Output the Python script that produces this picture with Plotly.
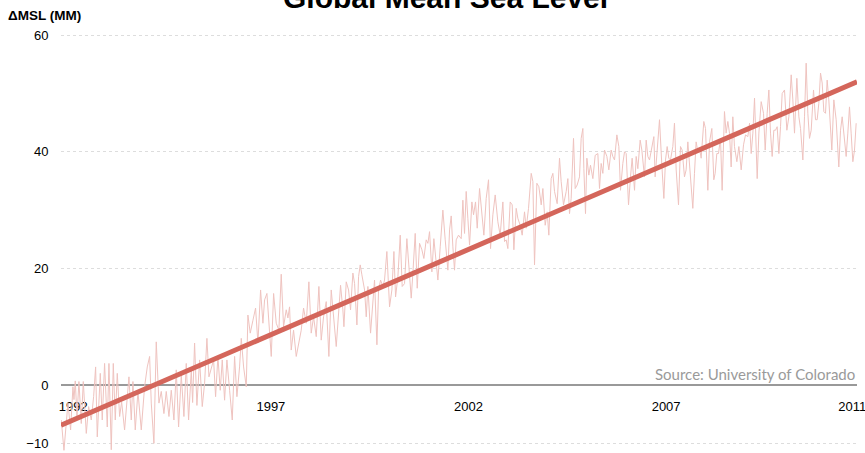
import plotly.graph_objects as go

# ---- data ----
years_a = [1991.697, 1991.765, 1991.866, 1991.933, 1991.992, 1992.018, 1992.051, 1992.094, 1992.144, 1992.203,
           1992.254, 1992.330, 1992.389, 1992.456, 1992.515, 1992.566, 1992.608, 1992.684, 1992.734, 1992.793,
           1992.861, 1992.903, 1992.962, 1993.013, 1993.063, 1993.114, 1993.173, 1993.224, 1993.299, 1993.358,
           1993.409, 1993.468, 1993.510, 1993.569, 1993.637, 1993.721, 1993.805, 1993.873, 1993.932, 1993.974,
           1994.041, 1994.100, 1994.168, 1994.227, 1994.294, 1994.353, 1994.421, 1994.480, 1994.547, 1994.606,
           1994.665, 1994.733, 1994.800, 1994.859, 1994.918, 1994.986, 1995.020]
msl_a = [-6.0, -11.2, -3.1, -7.7, -0.3, -2.5, 0.7, -5.4, 0.6, -6.6,
         0.6, -8.3, -3.7, -6.0, -2.0, 3.1, -8.9, 2.0, -6.0, 3.7,
         -7.2, 3.7, -11.1, 3.7, -6.0, 2.0, -5.4, -2.9, -7.7, -3.0,
         1.4, -6.0, 0.6, -7.7, -1.1, -7.7, -0.3, 3.1, 4.9, -3.1,
         -10.0, 7.4, -3.1, -1.1, -4.9, -1.1, -5.4, -0.9, -6.0, 2.6,
         -7.2, 1.7, -5.4, 3.7, -6.0, 2.6, -3.0]

years_b = [1995.070, 1995.129, 1995.197, 1995.264, 1995.323, 1995.382, 1995.433, 1995.492, 1995.551, 1995.601,
           1995.660, 1995.719, 1995.770, 1995.829, 1995.888, 1995.956, 1996.023, 1996.082, 1996.141, 1996.208,
           1996.251, 1996.310, 1996.377, 1996.419, 1996.478, 1996.546, 1996.613, 1996.672, 1996.740, 1996.799,
           1996.841, 1996.900, 1996.967, 1997.010, 1997.069, 1997.136, 1997.203, 1997.262, 1997.321, 1997.389,
           1997.431, 1997.473, 1997.515, 1997.574, 1997.642, 1997.709, 1997.768, 1997.827, 1997.895, 1997.962,
           1998.021, 1998.080, 1998.148, 1998.215, 1998.274, 1998.333, 1998.401, 1998.468]
msl_b = [7.2, -3.5, 4.3, -3.7, 0.3, 8.0, 1.4, 3.1, 4.3, -2.0,
         4.9, -0.9, 4.3, -2.6, 4.3, -0.9, -6.0, 4.9, -2.0, 3.1,
         8.0, 3.1, -0.3, 12.0, 8.9, 11.1, 13.2, 7.2, 16.3, 10.6,
         14.6, 15.7, 10.0, 4.9, 15.7, 10.6, 9.4, 19.0, 10.0, 12.9,
         11.5, 13.4, 6.0, 9.4, 4.9, 7.2, 9.4, 13.2, 10.6, 17.7,
         8.9, 11.7, 8.3, 16.9, 7.7, 11.7, 14.3, 4.9]

years_c = [1998.527, 1998.654, 1998.696, 1998.763, 1998.822, 1998.848, 1998.907, 1998.966, 1999.016, 1999.075,
           1999.118, 1999.177, 1999.219, 1999.261, 1999.303, 1999.371, 1999.413, 1999.455, 1999.522, 1999.581,
           1999.623, 1999.683, 1999.725, 1999.775, 1999.834, 1999.876, 1999.935, 2000.003, 2000.062, 2000.113,
           2000.155, 2000.214, 2000.273, 2000.323, 2000.382, 2000.441, 2000.492, 2000.551, 2000.593, 2000.652,
           2000.703, 2000.762, 2000.821, 2000.871, 2000.930, 2000.973, 2001.015, 2001.074, 2001.124, 2001.183,
           2001.226, 2001.285, 2001.352, 2001.411, 2001.479, 2001.521, 2001.563, 2001.605, 2001.647, 2001.689,
           2001.748, 2001.816, 2001.858, 2001.900]
msl_c = [16.3, 6.6, 10.6, 17.1, 12.9, 10.0, 17.7, 16.3, 12.9, 19.2,
         17.4, 10.3, 18.6, 20.6, 18.9, 16.3, 11.7, 16.9, 8.9, 14.6,
         18.0, 6.9, 16.3, 18.0, 16.9, 18.0, 22.9, 13.4, 16.3, 22.9,
         15.1, 18.6, 25.7, 16.9, 17.4, 25.1, 20.3, 14.9, 19.2, 26.0,
         16.6, 24.3, 23.2, 21.7, 24.9, 24.3, 26.3, 19.4, 25.1, 20.9,
         18.0, 23.7, 30.0, 24.9, 19.7, 26.6, 29.0, 23.7, 19.7, 24.9,
         25.7, 25.1, 31.7, 26.0]

years_d = [2001.942, 2001.984, 2002.027, 2002.086, 2002.128, 2002.178, 2002.221, 2002.280, 2002.339, 2002.389,
           2002.448, 2002.507, 2002.558, 2002.617, 2002.676, 2002.743, 2002.802, 2002.870, 2002.912, 2002.954,
           2002.996, 2003.055, 2003.106, 2003.148, 2003.207, 2003.249, 2003.308, 2003.359, 2003.418, 2003.460,
           2003.519, 2003.587, 2003.629, 2003.671, 2003.730, 2003.781, 2003.840, 2003.882, 2003.941, 2003.991,
           2004.033, 2004.092, 2004.135, 2004.177, 2004.244, 2004.303, 2004.345, 2004.404, 2004.472, 2004.514,
           2004.556, 2004.598, 2004.657, 2004.700, 2004.750, 2004.809, 2004.851, 2004.894, 2004.919, 2004.961,
           2004.995, 2005.045, 2005.087, 2005.147, 2005.206, 2005.273, 2005.315]
msl_d = [33.2, 28.6, 24.0, 31.4, 29.2, 31.4, 26.9, 33.7, 29.2, 25.7,
         32.0, 35.2, 23.4, 29.2, 32.6, 28.0, 25.7, 31.4, 24.6, 24.9,
         23.4, 31.4, 30.9, 23.2, 30.3, 28.6, 27.4, 25.7, 29.7, 26.9,
         30.3, 36.3, 34.9, 20.6, 34.6, 34.0, 30.9, 33.7, 27.4, 29.7,
         25.7, 35.4, 36.3, 33.2, 31.1, 38.9, 34.9, 30.9, 33.2, 35.4,
         29.4, 32.0, 42.3, 33.7, 34.3, 35.7, 42.3, 44.0, 37.1, 29.4,
         38.9, 36.0, 37.7, 35.4, 39.4, 39.7, 33.7]

years_e = [2005.357, 2005.399, 2005.442, 2005.501, 2005.551, 2005.610, 2005.652, 2005.695, 2005.754, 2005.804,
           2005.846, 2005.905, 2005.948, 2005.990, 2006.049, 2006.099, 2006.141, 2006.201, 2006.243, 2006.285,
           2006.344, 2006.386, 2006.453, 2006.496, 2006.538, 2006.580, 2006.639, 2006.690, 2006.723, 2006.774,
           2006.833, 2006.892, 2006.943, 2006.985, 2007.027, 2007.069, 2007.111, 2007.170, 2007.212, 2007.255,
           2007.314, 2007.364, 2007.406, 2007.465, 2007.507, 2007.550, 2007.609, 2007.676, 2007.718, 2007.760,
           2007.803, 2007.845, 2007.887, 2007.954, 2007.997, 2008.056, 2008.098, 2008.157, 2008.207, 2008.241,
           2008.283, 2008.325, 2008.376, 2008.418, 2008.477, 2008.519, 2008.562, 2008.604, 2008.646, 2008.688,
           2008.730]
msl_e = [38.0, 36.3, 40.3, 39.2, 36.9, 40.3, 39.2, 38.6, 42.9, 40.9,
         33.4, 38.0, 40.0, 39.7, 30.9, 35.7, 38.9, 33.4, 39.2, 37.1,
         42.0, 40.3, 35.7, 42.0, 39.2, 38.6, 41.1, 42.6, 35.7, 40.9,
         45.5, 37.7, 32.0, 38.6, 40.9, 38.9, 38.6, 40.9, 44.9, 36.9,
         30.9, 40.9, 40.3, 35.7, 36.9, 41.7, 35.7, 30.3, 36.3, 41.7,
         40.0, 40.6, 38.9, 45.2, 44.0, 33.4, 41.7, 44.0, 35.2, 36.3,
         39.7, 39.7, 42.3, 33.4, 46.9, 43.2, 45.2, 43.2, 37.4, 46.0,
         40.9]

years_f = [2008.790, 2008.841, 2008.900, 2008.959, 2009.009, 2009.068, 2009.111, 2009.153, 2009.195, 2009.237,
           2009.279, 2009.305, 2009.347, 2009.406, 2009.465, 2009.507, 2009.557, 2009.600, 2009.642, 2009.684,
           2009.726, 2009.768, 2009.810, 2009.853, 2009.895, 2009.937, 2009.996, 2010.055, 2010.106, 2010.165,
           2010.207, 2010.249, 2010.308, 2010.359, 2010.401, 2010.460, 2010.502, 2010.544, 2010.586, 2010.628,
           2010.671, 2010.730, 2010.780, 2010.822, 2010.864, 2010.907, 2010.949, 2010.991, 2011.033, 2011.075,
           2011.117, 2011.151, 2011.193, 2011.244, 2011.303, 2011.370, 2011.413, 2011.455, 2011.497, 2011.556,
           2011.598, 2011.640, 2011.682, 2011.725, 2011.767, 2011.809]
msl_f = [38.3, 40.9, 36.9, 41.2, 42.9, 42.6, 44.9, 39.7, 43.2, 49.2,
         40.9, 35.4, 43.2, 48.6, 46.6, 40.3, 46.6, 50.6, 43.2, 39.2,
         43.7, 43.7, 44.3, 39.7, 44.3, 50.0, 50.6, 43.7, 46.0, 53.2,
         48.9, 43.2, 52.6, 46.0, 44.0, 38.6, 46.0, 55.2, 46.6, 42.3,
         43.7, 50.6, 45.5, 45.5, 48.3, 53.5, 51.8, 46.9, 46.6, 52.3,
         48.9, 45.2, 40.3, 48.9, 45.5, 37.4, 43.7, 46.0, 43.2, 39.2,
         43.2, 47.7, 43.2, 38.3, 40.3, 44.9]

trend_years = [1991.69, 2011.83]
trend_mm = [-6.9, 52.0]

x_tick_vals = [1992, 1997, 2002, 2007, 2011.71]
x_tick_text = ["1992", "1997", "2002", "2007", "2011"]
y_tick_vals = [-10, 0, 20, 40, 60]

years = years_a + years_b + years_c + years_d + years_e + years_f
msl = msl_a + msl_b + msl_c + msl_d + msl_e + msl_f

# ---- figure ----
FONT = "Liberation Sans, Arial, sans-serif"
y_min, y_max = -11.66, 62.09

fig = go.Figure()
fig.add_trace(go.Scatter(x=years, y=msl, mode="lines",
                         line=dict(color="#efc3bf", width=1), hoverinfo="skip"))
fig.add_trace(go.Scatter(x=trend_years, y=trend_mm, mode="lines",
                         line=dict(color="#d4665b", width=5), hoverinfo="skip"))

fig.update_layout(
    width=865, height=453,
    margin=dict(l=61, r=8, t=23, b=0),
    paper_bgcolor="white", plot_bgcolor="white",
    showlegend=False,
    font=dict(family=FONT, size=13, color="#000"),
    xaxis=dict(range=[1991.69, 2011.83], tickvals=x_tick_vals, ticktext=x_tick_text,
               showgrid=False, zeroline=False, showline=True, linecolor="#999999", linewidth=2,
               ticks="outside", ticklen=9, tickcolor="rgba(0,0,0,0)",
               anchor="free", position=(0 - y_min) / (y_max - y_min),
               ticklabeloverflow="allow", layer="below traces",
               tickfont=dict(family=FONT, size=13, color="#000")),
    yaxis=dict(range=[y_min, y_max], tickvals=y_tick_vals,
               showgrid=True, gridcolor="#dddddd", griddash="3px,3px", gridwidth=1,
               zeroline=False, showline=False,
               ticks="outside", ticklen=9, tickcolor="rgba(0,0,0,0)",
               layer="below traces",
               tickfont=dict(family=FONT, size=13, color="#000")),
    annotations=[
        dict(text="Global Mean Sea Level", xref="paper", yref="paper",
             x=(445 - 61) / 796, y=(453 + 3) / 430, xanchor="center", yanchor="middle",
             showarrow=False, font=dict(family=FONT, size=30, color="#000", weight="bold")),
        dict(text="ΔMSL (MM)", xref="paper", yref="paper",
             x=(6 - 61) / 796, y=(453 - 15.7) / 430, xanchor="left", yanchor="middle",
             showarrow=False, font=dict(family=FONT, size=13.5, color="#000", weight="bold")),
        dict(text="Source: University of Colorado", xref="paper", yref="paper",
             x=1.0, y=(453 - 374) / 430, xanchor="right", yanchor="middle",
             showarrow=False, font=dict(family="Lato, sans-serif", size=15, color="#9a9a9a")),
    ],
)

fig.write_html("out.html", config={"displayModeBar": False},
               post_script="document.body.style.margin='0';")
